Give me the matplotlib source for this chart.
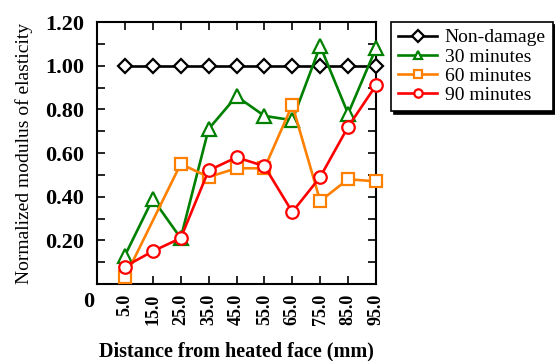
import matplotlib
matplotlib.use("Agg")
import matplotlib.pyplot as plt
import numpy as np

plt.rcParams['font.family'] = ['Liberation Serif', 'DejaVu Serif']

categories = ["5.0", "15.0", "25.0", "35.0", "45.0", "55.0", "65.0", "75.0", "85.0", "95.0"]
non_damage = [1.00, 1.00, 1.00, 1.00, 1.00, 1.00, 1.00, 1.00, 1.00, 1.00]
min30 = [0.13, 0.39, 0.21, 0.71, 0.86, 0.77, 0.75, 1.09, 0.78, 1.08]
min60_cats = ["5.0", "25.0", "35.0", "45.0", "55.0", "65.0", "75.0", "85.0", "95.0"]
min60 = [0.03, 0.55, 0.49, 0.53, 0.53, 0.82, 0.38, 0.48, 0.47]
min90 = [0.08, 0.15, 0.21, 0.52, 0.58, 0.54, 0.33, 0.49, 0.72, 0.91]
yticks = [0.20, 0.40, 0.60, 0.80, 1.00, 1.20]

fig = plt.figure(figsize=(5.55, 3.61), dpi=100)
ax = fig.add_axes([97/555, 1-284/361, 279/555, 262/361])

pos = {c: i + 1 for i, c in enumerate(categories)}
xs = [pos[c] for c in categories]
xs60 = [pos[c] for c in min60_cats]

lw = 1.9
mew = 1.6
kw = dict(lw=lw, mfc='white', mew=mew, clip_on=False)
ax.plot(xs, non_damage, color='black', marker='D', ms=7, mec='black', label='Non-damage', zorder=3, **kw)
ax.plot(xs, min30, color='#008000', marker='^', ms=10, mec='#008000', label='30 minutes', zorder=4, **kw)
ax.plot(xs60, min60, color='#FF8000', marker='s', ms=9, mec='#FF8000', label='60 minutes', zorder=5, **kw)
ax.plot(xs, min90, color='#FF0000', marker='o', ms=9, mec='#FF0000', label='90 minutes', zorder=6, **kw)

ax.set_xlim(0, 10)
ax.set_ylim(0, 1.2)
ax.set_xticks(xs)
ax.set_xticklabels(categories, rotation=90, fontsize=13, fontweight='bold')
ax.set_yticks(yticks)
ax.set_yticklabels([f"{v:.2f}" for v in yticks], fontsize=16, fontweight='bold')
ax.set_yticks(np.arange(0.1, 1.2, 0.2), minor=True)
ax.tick_params(axis='both', which='both', direction='in', top=True, right=True, width=1.2)
ax.tick_params(axis='y', which='major', length=6, pad=9)
ax.tick_params(axis='y', which='minor', length=6)
ax.tick_params(axis='x', which='major', length=6, pad=7)
for s in ax.spines.values():
    s.set_linewidth(1.5)

ax.text(-0.01, -0.03, "0", transform=ax.transAxes, ha='right', va='top', fontsize=16, fontweight='bold')
ax.set_ylabel("Normalized modulus of elasticity", fontsize=14, labelpad=9)
ax.set_xlabel("Distance from heated face (mm)", fontsize=14.5, fontweight='bold', labelpad=12)

leg = ax.legend(loc='upper left', bbox_to_anchor=(1.055, 1.0), fontsize=14, frameon=True,
                fancybox=False, shadow={'color': 'black', 'alpha': 1.0}, edgecolor='black', borderpad=0.35,
                labelspacing=0.08, handlelength=2.0, handletextpad=0.4, borderaxespad=0)
leg.get_frame().set_linewidth(1.2)
for h in leg.legend_handles:
    h.set_markersize(6)

fig.savefig("out.png", dpi=100)
